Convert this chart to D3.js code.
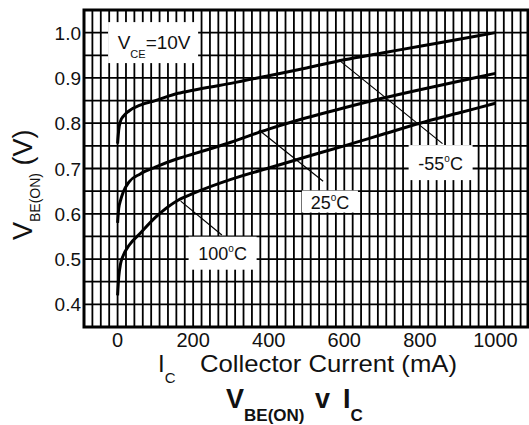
<!DOCTYPE html>
<html lang="en">
<head>
    <meta charset="UTF-8">
    <title>VBE(ON) v IC</title>
    <script src="https://d3js.org/d3.v7.min.js"></script>
    <style>
        body {
            margin: 0;
            background-color: #fff;
        }
        svg {
            display: block;
            font-family: "Liberation Sans", Arial, sans-serif;
        }
    </style>
</head>
<body>
    <svg id="main-svg"></svg>

    <script>
        // collector current (mA) sample points shared by the three curves
        const currentMA = [0, 3, 8, 15, 30, 60, 100, 160, 200, 300, 400, 500, 600, 700, 800, 900, 1000];
        const vbeMinus55 = [0.755, 0.785, 0.805, 0.815, 0.827, 0.84, 0.85, 0.866, 0.873, 0.888, 0.905, 0.922, 0.94, 0.955, 0.97, 0.985, 1.0];
        const vbe25 = [0.58, 0.612, 0.63, 0.648, 0.67, 0.688, 0.703, 0.722, 0.732, 0.758, 0.787, 0.812, 0.834, 0.855, 0.874, 0.892, 0.91];
        const vbe100 = [0.42, 0.46, 0.49, 0.508, 0.53, 0.557, 0.592, 0.63, 0.645, 0.676, 0.701, 0.726, 0.75, 0.775, 0.8, 0.822, 0.844];

        const xTickValues = [0, 200, 400, 600, 800, 1000];
        const yTickValues = [0.4, 0.5, 0.6, 0.7, 0.8, 0.9, 1.0];

        // curve labels: text, box centre (data units), leader line from/to (data units)
        const curveLabels = [
            { temp: "-55", at: [855, 0.713], from: [591, 0.936], to: [860, 0.755] },
            { temp: "25", at: [562, 0.627], from: [374, 0.785], to: [544, 0.672] },
            { temp: "100", at: [278, 0.513], from: [167, 0.628], to: [276, 0.553] }
        ];

        const width = 529, height = 425;
        const svg = d3.select("#main-svg")
            .attr("width", width)
            .attr("height", height);

        const x = d3.scaleLinear().domain([-800 / 9, 9800 / 9]).range([84, 529]);
        const y = d3.scaleLinear().domain([0.35, 1.05]).range([327, 10]);

        // grid: 9 divisions per 200 mA, 0.05 V steps
        const xGrid = d3.range(0, 54).map(k => -800 / 9 + k * 200 / 9);
        const yGrid = d3.range(0, 15).map(k => 0.35 + k * 0.05);

        const grid = svg.append("g");
        grid.selectAll(".vg")
            .data(xGrid)
            .enter()
            .append("line")
            .attr("x1", d => x(d)).attr("x2", d => x(d))
            .attr("y1", y(0.35)).attr("y2", y(1.05))
            .attr("stroke", "#000")
            .attr("stroke-width", 1.8);
        grid.selectAll(".hg")
            .data(yGrid)
            .enter()
            .append("line")
            .attr("x1", x.range()[0]).attr("x2", x.range()[1])
            .attr("y1", d => y(d)).attr("y2", d => y(d))
            .attr("stroke", "#000")
            .attr("stroke-width", 1.8);

        // frame
        svg.append("rect")
            .attr("x", x.range()[0])
            .attr("y", y(1.05))
            .attr("width", x.range()[1] - x.range()[0] - 1)
            .attr("height", y(0.35) - y(1.05))
            .attr("fill", "none")
            .attr("stroke", "#000")
            .attr("stroke-width", 3);

        const line = d3.line()
            .x(d => x(d[0]))
            .y(d => y(d[1]))
            .curve(d3.curveMonotoneX);

        [vbeMinus55, vbe25, vbe100].forEach(series => {
            svg.append("path")
                .datum(currentMA.map((c, i) => [c, series[i]]))
                .attr("d", line)
                .attr("fill", "none")
                .attr("stroke", "#000")
                .attr("stroke-width", 3);
        });

        // leader lines
        svg.selectAll(".leader")
            .data(curveLabels)
            .enter()
            .append("line")
            .attr("x1", d => x(d.from[0])).attr("y1", d => y(d.from[1]))
            .attr("x2", d => x(d.to[0])).attr("y2", d => y(d.to[1]))
            .attr("stroke", "#000")
            .attr("stroke-width", 1.2);

        // label boxes
        const boxSizes = { "-55": [64, 35], "25": [56, 22], "100": [68, 33] };
        curveLabels.forEach(d => {
            const cx = x(d.at[0]), cy = y(d.at[1]);
            const [bw, bh] = boxSizes[d.temp];
            svg.append("rect")
                .attr("x", cx - bw / 2).attr("y", cy - bh / 2)
                .attr("width", bw).attr("height", bh)
                .attr("fill", "#fff");
            const t = svg.append("text")
                .attr("x", cx)
                .attr("y", cy + 7)
                .attr("text-anchor", "middle")
                .attr("font-size", 18)
                .attr("fill", "#111");
            t.append("tspan").text(d.temp);
            t.append("tspan").attr("font-size", 10).attr("dy", -8).text("o");
            t.append("tspan").attr("dy", 8).text("C");
        });

        // VCE box
        const vceX = x(94), vceY = y(0.978);
        svg.append("rect")
            .attr("x", vceX - 45).attr("y", vceY - 20.5)
            .attr("width", 90).attr("height", 41)
            .attr("fill", "#fff");
        const vce = svg.append("text")
            .attr("x", vceX + 1)
            .attr("y", vceY + 6)
            .attr("text-anchor", "middle")
            .attr("font-size", 19)
            .attr("fill", "#111");
        vce.append("tspan").text("V");
        vce.append("tspan").attr("font-size", 11).attr("dy", 9).text("CE");
        vce.append("tspan").attr("dy", -9).text("=10V");

        // tick labels
        svg.selectAll(".xt")
            .data(xTickValues)
            .enter()
            .append("text")
            .attr("x", d => x(d))
            .attr("y", 347)
            .attr("text-anchor", "middle")
            .attr("font-size", 20)
            .attr("fill", "#111")
            .text(d => d);
        svg.selectAll(".yt")
            .data(yTickValues)
            .enter()
            .append("text")
            .attr("x", 81)
            .attr("y", d => y(d) + 7)
            .attr("text-anchor", "end")
            .attr("font-size", 19)
            .attr("fill", "#111")
            .text(d => d.toFixed(1));

        // x axis title
        const xt = svg.append("text")
            .attr("x", 158)
            .attr("y", 372)
            .attr("font-size", 24)
            .attr("fill", "#111");
        xt.append("tspan").text("I");
        xt.append("tspan").attr("font-size", 15).attr("dy", 11).text("C");
        xt.append("tspan")
            .attr("x", 200).attr("dy", -11)
            .attr("textLength", 257)
            .attr("lengthAdjust", "spacingAndGlyphs")
            .text("Collector Current (mA)");

        // y axis title
        const yt = svg.append("text")
            .attr("transform", "translate(32,240) rotate(-90)")
            .attr("font-size", 27)
            .attr("fill", "#111");
        yt.append("tspan").text("V");
        yt.append("tspan").attr("font-size", 14).attr("dy", 8).text("BE(ON)");
        yt.append("tspan").attr("dy", -8).text(" (V)");

        // chart title
        const title = svg.append("text")
            .attr("y", 408)
            .attr("font-size", 27)
            .attr("font-weight", "bold")
            .attr("fill", "#111");
        title.append("tspan").attr("x", 226).text("V");
        title.append("tspan").attr("font-size", 17).attr("dy", 13).text("BE(ON)");
        title.append("tspan").attr("x", 315).attr("dy", -13).text("v");
        title.append("tspan").attr("x", 343).text("I");
        title.append("tspan").attr("font-size", 17).attr("dy", 13).text("C");
    </script>
</body>
</html>
